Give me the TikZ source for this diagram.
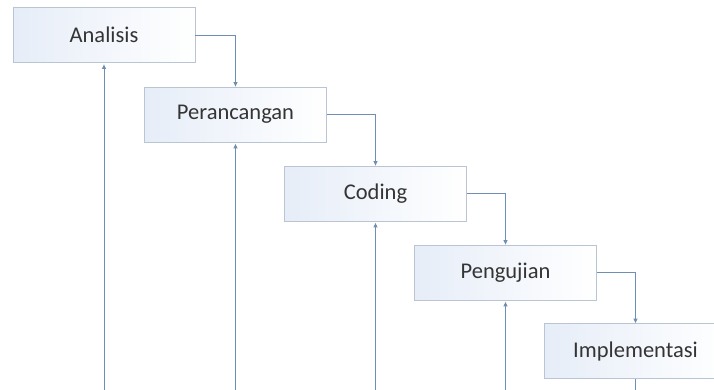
\documentclass[tikz,border=0pt]{standalone}
\usepackage{fontspec}
\setmainfont{Carlito}
\usetikzlibrary{arrows.meta}
\definecolor{boxline}{RGB}{186,197,212}
\definecolor{boxfillA}{RGB}{230,237,248}
\definecolor{arr}{RGB}{112,142,178}
\definecolor{txt}{RGB}{52,52,52}
\begin{document}
\begin{tikzpicture}[x=1pt,y=-1pt,
  stage/.style={draw=boxline, line width=0.8pt, minimum width=182pt, minimum height=55pt,
    inner sep=0pt, left color=boxfillA, right color=white,
    font=\fontsize{22.5}{26}\selectfont, text=txt},
  flow/.style={draw=arr, line width=0.9pt, -{Triangle[length=4.5pt,width=4pt]}},
  plain/.style={draw=arr, line width=0.9pt}]
\useasboundingbox (0,0) rectangle (714,389);
\clip (0,0) rectangle (714,389);
\fill[white] (0,0) rectangle (714,389);
\node[stage] (a) at (104,35) {Analisis};
\node[stage] (p) at (235.5,114.5) {Perancangan};
\node[stage] (c) at (375.5,193.5) {Coding};
\node[stage] (u) at (505.5,272.5) {Pengujian};
\node[stage] (i) at (635.5,351) {Implementasi};
\coordinate (ba) at (104,392);
\coordinate (bp) at (235.5,392);
\coordinate (bc) at (375.5,392);
\coordinate (bu) at (505.5,392);
\coordinate (bi) at (635.5,392);
\draw[flow] (a.east) -| (p.north);
\draw[flow] (p.east) -| (c.north);
\draw[flow] (c.east) -| (u.north);
\draw[flow] (u.east) -| (i.north);
\draw[flow, shorten >=1.5pt] (ba) -- (a.south);
\draw[flow, shorten >=1.5pt] (bp) -- (p.south);
\draw[flow, shorten >=1.5pt] (bc) -- (c.south);
\draw[flow, shorten >=1.5pt] (bu) -- (u.south);
\draw[plain] (i.south) -- (bi);
\end{tikzpicture}
\end{document}
